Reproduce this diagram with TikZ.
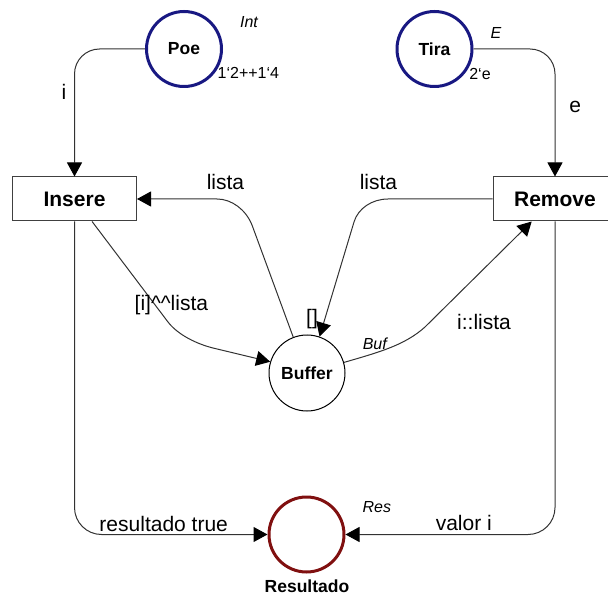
\documentclass[tikz,border=0pt]{standalone}
\usepackage{fontspec}
\setmainfont{Liberation Sans}
\usetikzlibrary{arrows.meta}
\definecolor{placeblue}{RGB}{24,24,130}
\definecolor{placered}{RGB}{128,16,16}
\definecolor{arcgray}{RGB}{50,50,50}
\tikzset{
  place/.style={circle, draw, line width=1pt, minimum size=76pt, inner sep=0pt,
    font=\fontsize{17.5}{20}\selectfont\bfseries},
  thickplace/.style={place, line width=3pt, minimum size=75pt},
  trans/.style={rectangle, draw=black!75, line width=1pt, minimum width=124pt,
    minimum height=44pt, inner sep=0pt, font=\fontsize{21}{24}\selectfont\bfseries},
  arc/.style={draw=arcgray, line width=1pt,
    -{Triangle[length=14pt,width=15pt,color=black]}},
  lab/.style={font=\fontsize{21}{24}\selectfont, inner sep=0pt, anchor=base},
  tinylab/.style={font=\fontsize{16}{18}\selectfont, inner sep=0pt, anchor=base},
  tinyit/.style={font=\fontsize{16}{18}\selectfont\itshape, inner sep=0pt, anchor=base},
  placename/.style={font=\fontsize{17.5}{20}\selectfont\bfseries, inner sep=0pt, anchor=base},
}
\begin{document}
\begin{tikzpicture}[x=1pt, y=-1pt]
\useasboundingbox (0,0) rectangle (608,596);
\clip (0,0) rectangle (608,596);

% places
\node[thickplace, draw=placeblue] (poe) at (184,49) {Poe};
\node[thickplace, draw=placeblue] (tira) at (434.5,49) {Tira};
\node[place] (buf) at (307,373) {Buffer};
\node[thickplace, draw=placered] (res) at (306.5,534.5) {};
\node[placename] (resname) at (307,592) {Resultado};

% transitions
\node[trans] (ins) at (74.5,199) {Insere};
\node[trans] (rem) at (555,199) {Remove};

% arcs
\draw[arc, rounded corners=25pt] (poe.west) -| (ins.north);
\draw[arc, rounded corners=25pt] (tira.east) -| (rem.north);
\draw[arc, rounded corners=27pt] (ins.south) |- (res.west);
\draw[arc, rounded corners=27pt] (rem.south) |- (res.east);
\draw[arc] (buf.111) -- (252,225) .. controls (246,210) and (232,199) .. (217,199) -- (ins.east);
\draw[arc] (rem.west) -- (388,199) .. controls (372,199) and (358,208.5) .. (354,222) -- (buf.71);
\draw[arc] (ins.-52) -- (168,322) .. controls (178,335) and (197,344) .. (213,348) -- (buf.163);
\draw[arc] (buf.16) .. controls (380,352) and (405,345) .. (425,327) -- (rem.-136);

% arc inscriptions
\node[lab] (li) at (64,100) {i};
\node[lab] (le) at (575.3,112.3) {e};
\node[lab] (llista1) at (225.5,190) {lista};
\node[lab] (llista2) at (378.5,190) {lista};
\node[lab, anchor=base west] (lcat) at (134.5,310) {[i]\textasciicircum\textasciicircum lista};
\node[lab] (lempty) at (312,324) {[]};
\node[lab] (lcons) at (484,329.3) {i::lista};
\node[lab] (ltrue) at (163.7,531) {resultado true};
\node[lab] (lval) at (463.8,530.7) {valor i};

% colour sets and initial markings
\node[tinyit] (cint) at (249,27.3) {Int};
\node[tinylab, anchor=base west] (mpoe) at (217.5,78.3) {1‘2++1‘4};
\node[tinyit] (ce) at (496,38.3) {E};
\node[tinylab] (mtira) at (480,80) {2‘e};
\node[tinyit] (cbuf) at (374.8,349) {Buf};
\node[tinyit] (cres) at (376.8,512.7) {Res};
\end{tikzpicture}
\end{document}
